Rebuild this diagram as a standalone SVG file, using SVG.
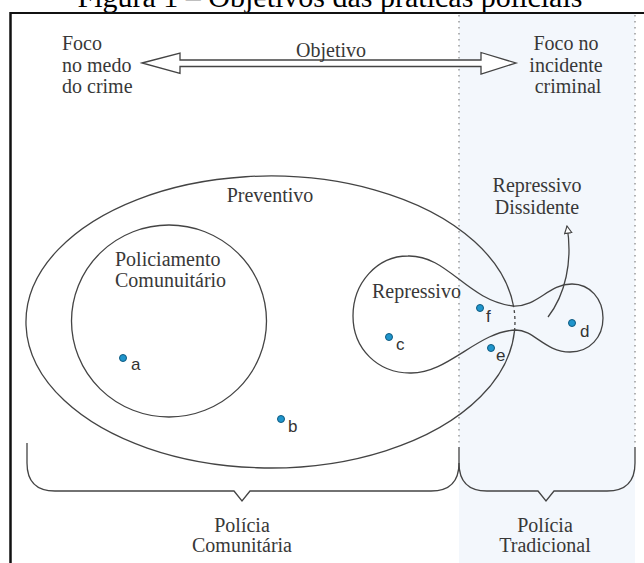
<svg xmlns="http://www.w3.org/2000/svg" width="644" height="563" viewBox="0 0 644 563">
<defs>
<style>
.lbl{font-family:"Liberation Serif","Times New Roman",serif;font-size:20px;fill:#383838}
.ttl{font-family:"Liberation Serif","Times New Roman",serif;font-size:30px;fill:#000}
.pt{font-family:"Liberation Sans",Arial,sans-serif;font-size:17px;fill:#333}
.ln{fill:none;stroke:#444;stroke-width:1.3}
.dot{fill:#1f95cc;stroke:#0f5a80;stroke-width:1}
.dotted{fill:none;stroke:#9a9a9a;stroke-width:1.5;stroke-dasharray:1.5 4.5}
</style>
<marker id="openHead" viewBox="0 0 10 10" refX="9" refY="5" markerWidth="9" markerHeight="9" markerUnits="userSpaceOnUse" orient="auto">
<path d="M1,1 L9,5 L1,9 Z" fill="#fff" stroke="#444" stroke-width="1.3"/>
</marker>
</defs>
<rect width="644" height="563" fill="#fff"/>
<rect x="459" y="13" width="176" height="550" fill="#f3f7fc"/>
<text class="ttl" x="330" y="7" text-anchor="middle">Figura 1 – Objetivos das práticas policiais</text>
<g id="frame">
<line x1="10" y1="13" x2="644" y2="13" stroke="#111" stroke-width="1.8"/>
<line x1="10.5" y1="12" x2="10.5" y2="563" stroke="#111" stroke-width="2.5"/>
<line class="dotted" x1="459" y1="15" x2="459" y2="447"/>
<line class="dotted" x1="635" y1="15" x2="635" y2="447"/>
</g>
<g id="foco-medo">
<text class="lbl" x="62" y="50">Foco</text>
<text class="lbl" x="62" y="72">no medo</text>
<text class="lbl" x="62" y="93">do crime</text>
</g>
<g id="foco-incidente">
<text class="lbl" x="566" y="50" text-anchor="middle">Foco no</text>
<text class="lbl" x="566" y="72" text-anchor="middle">incidente</text>
<text class="lbl" x="568" y="93" text-anchor="middle">criminal</text>
</g>
<g id="objetivo">
<path d="M142,63 L180,53 L180,60 L481,60 L481,52.5 L516,63 L481,74 L481,66.5 L180,66.5 L180,73.5 Z" fill="#fff" stroke="#444" stroke-width="1.3" stroke-linejoin="miter"/>
<text class="lbl" x="331" y="57" text-anchor="middle">Objetivo</text>
</g>
<g id="preventivo">
<path class="ln" d="M513.5,306 A244.5,146 0 1 0 514.5,331"/>
<path class="ln" d="M514.5,331 A244.5,146 0 0 0 513.5,306" stroke-dasharray="3 3"/>
<text class="lbl" x="270" y="202" text-anchor="middle">Preventivo</text>
</g>
<g id="policiamento-comunitario">
<ellipse class="ln" cx="169" cy="321" rx="97.5" ry="96"/>
<text class="lbl" x="115" y="266">Policiamento</text>
<text class="lbl" x="115" y="287">Comunuitário</text>
</g>
<g id="repressivo">
<path class="ln" d="M513,306 C466,300 448,255 408,256 C377,256 353,283 353,316 C353,349 378,373 410,373 C448,374 478,331 516,330 C534,330 545,352 570,352 C590,352 603,337 603,318 C603,299 590,284 572,284 C548,284 538,307 513,306 Z"/>
<text class="lbl" x="372" y="298">Repressivo</text>
</g>
<g id="repressivo-dissidente">
<text class="lbl" x="537" y="192" text-anchor="middle">Repressivo</text>
<text class="lbl" x="537" y="214" text-anchor="middle">Dissidente</text>
</g>
<g id="connectors">
<path class="ln" d="M548,317 C565,295 573,262 567,226" marker-end="url(#openHead)"/>
</g>
<g id="points">
<circle class="dot" cx="123" cy="358" r="3.5"/><text class="pt" x="131" y="370">a</text>
<circle class="dot" cx="281" cy="419" r="3.5"/><text class="pt" x="288" y="432">b</text>
<circle class="dot" cx="389" cy="337" r="3.5"/><text class="pt" x="396" y="350">c</text>
<circle class="dot" cx="572" cy="323" r="3.5"/><text class="pt" x="580" y="337">d</text>
<circle class="dot" cx="491" cy="348" r="3.5"/><text class="pt" x="496" y="361">e</text>
<circle class="dot" cx="480" cy="308" r="3.5"/><text class="pt" x="486" y="322">f</text>
</g>
<g id="policia-comunitaria">
<path class="ln" d="M27,443 L27,463 Q27,491 55,491 L234,491 L242,501 L250,491 L431,491 Q459,491 459,463 L459,447"/>
<text class="lbl" x="242" y="532" text-anchor="middle">Polícia</text>
<text class="lbl" x="242" y="552" text-anchor="middle">Comunitária</text>
</g>
<g id="policia-tradicional">
<path class="ln" d="M459,463 Q459,491 487,491 L538,491 L546,501 L554,491 L607,491 Q635,491 635,463 L635,447"/>
<text class="lbl" x="545" y="532" text-anchor="middle">Polícia</text>
<text class="lbl" x="545" y="552" text-anchor="middle">Tradicional</text>
</g>
</svg>
